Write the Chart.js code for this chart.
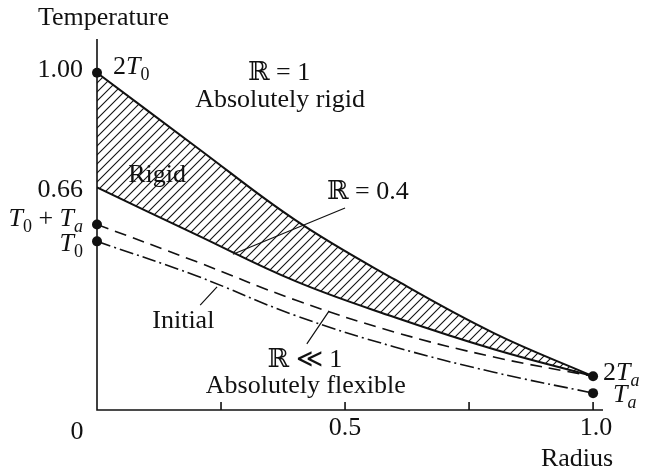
<!DOCTYPE html>
<html>
<head>
<meta charset="utf-8">
<title>Temperature vs Radius</title>
<script src="https://cdn.jsdelivr.net/npm/chart.js@4/dist/chart.umd.min.js"></script>
<style>
  html, body { margin: 0; padding: 0; background: #fff; }
  canvas { display: block; }
</style>
</head>
<body>
<canvas id="profileChart" width="650" height="474"></canvas>
<script>
// Temperature profiles along the radius

// ---------- data ----------
const T0 = 0.5;
const Ta = 0.05;

const radius       = [0, 0.2, 0.4, 0.6, 0.8, 1.0];
const rigidFull    = [2 * T0, 0.78, 0.563, 0.387, 0.228, 2 * Ta];  // R = 1
const rigidPartial = [0.66, 0.52, 0.382, 0.275, 0.18, 2 * Ta];     // R = 0.4
const flexible     = [T0 + Ta, 0.44, 0.326, 0.231, 0.157, 2 * Ta]; // R << 1
const initial      = [T0, 0.398, 0.28, 0.187, 0.112, Ta];

const endX = [0, 0, 0, 1, 1];
const endY = [2 * T0, T0 + Ta, T0, 2 * Ta, Ta];

const xTicks = [0.25, 0.5, 0.75, 1.0];

const INK = '#111';
const SERIF = '"Liberation Serif", "DejaVu Serif", serif';

// ---------- helpers ----------
function toPoints(ys) {
  return radius.map((r, i) => ({ x: r, y: ys[i] }));
}

function hatchPattern() {
  const s = 9;
  const c = document.createElement('canvas');
  c.width = s; c.height = s;
  const g = c.getContext('2d');
  g.strokeStyle = INK;
  g.lineWidth = 1.1;
  g.beginPath();
  g.moveTo(0, s); g.lineTo(s, 0);
  g.moveTo(-2, 2); g.lineTo(2, -2);
  g.moveTo(s - 2, s + 2); g.lineTo(s + 2, s - 2);
  g.stroke();
  return g.createPattern(c, 'repeat');
}

// parts: [text, italic?, subscript?]
function drawMath(ctx, parts, x, y, align) {
  const fontOf = (p) => `${p[1] ? 'italic ' : ''}${p[2] ? 18 : 26}px ${SERIF}`;
  let total = 0;
  parts.forEach(p => { ctx.font = fontOf(p); total += ctx.measureText(p[0]).width; });
  let cx = align === 'right' ? x - total : align === 'center' ? x - total / 2 : x;
  ctx.textAlign = 'left';
  ctx.textBaseline = 'alphabetic';
  parts.forEach(p => {
    ctx.font = fontOf(p);
    ctx.fillText(p[0], cx, p[2] ? y + 6 : y);
    cx += ctx.measureText(p[0]).width;
  });
}

function text(ctx, str, x, y, align) {
  ctx.font = `26px ${SERIF}`;
  ctx.textAlign = align || 'center';
  ctx.textBaseline = 'alphabetic';
  ctx.fillText(str, x, y);
}

// ---------- axes, ticks ----------
const axesPlugin = {
  id: 'axesPlugin',
  beforeDatasetsDraw(chart) {
    const { ctx, chartArea: a, scales: { x } } = chart;
    ctx.save();
    ctx.strokeStyle = INK;
    ctx.lineWidth = 1.6;
    ctx.beginPath();
    ctx.moveTo(a.left, a.top);
    ctx.lineTo(a.left, a.bottom);
    ctx.lineTo(a.right, a.bottom);
    xTicks.forEach(v => {
      const px = x.getPixelForValue(v);
      ctx.moveTo(px, a.bottom);
      ctx.lineTo(px, a.bottom - 8);
    });
    ctx.stroke();
    ctx.restore();
  }
};

// ---------- labels and leader lines ----------
const labelPlugin = {
  id: 'labelPlugin',
  afterDraw(chart) {
    const { ctx, chartArea: a, scales: { x, y } } = chart;
    const X = (v) => x.getPixelForValue(v);
    const Y = (v) => y.getPixelForValue(v);
    ctx.save();
    ctx.fillStyle = INK;
    ctx.strokeStyle = INK;

    // axis titles
    text(ctx, 'Temperature', 38, 25, 'left');
    text(ctx, 'Radius', 577, 466);

    // y tick labels
    const yl = a.left - 14;
    text(ctx, '1.00', yl, Y(1.0) + 4, 'right');
    text(ctx, '0.66', yl, Y(0.66) + 10, 'right');
    drawMath(ctx, [['T', true], ['0', false, true], [' + '], ['T', true], ['a', true, true]], yl, Y(T0 + Ta) + 1, 'right');
    drawMath(ctx, [['T', true], ['0', false, true]], yl, Y(T0) + 10, 'right');

    // x tick labels
    text(ctx, '0', a.left - 20, 439);
    text(ctx, '0.5', X(0.5), 435);
    text(ctx, '1.0', X(1.0) + 3, 435);

    // end point labels
    drawMath(ctx, [['2'], ['T', true], ['0', false, true]], X(0) + 16, Y(2 * T0) + 1, 'left');
    drawMath(ctx, [['2'], ['T', true], ['a', true, true]], X(1) + 10, Y(2 * Ta) + 4, 'left');
    drawMath(ctx, [['T', true], ['a', true, true]], X(1) + 20, Y(Ta) + 9, 'left');

    // curve annotations
    text(ctx, 'ℝ = 1', X(0.367), Y(0.978));
    text(ctx, 'Absolutely rigid', X(0.369), Y(0.898));
    text(ctx, 'Rigid', X(0.121), Y(0.676));
    text(ctx, 'ℝ = 0.4', X(0.546), Y(0.626));
    text(ctx, 'Initial', X(0.174), Y(0.243));
    text(ctx, 'ℝ ≪ 1', X(0.419), Y(0.127));
    text(ctx, 'Absolutely flexible', X(0.421), Y(0.050));

    // leader lines
    ctx.lineWidth = 1.2;
    ctx.beginPath();
    ctx.moveTo(X(0.274), Y(0.462)); ctx.lineTo(X(0.500), Y(0.599));
    ctx.moveTo(X(0.208), Y(0.311)); ctx.lineTo(X(0.242), Y(0.365));
    ctx.moveTo(X(0.423), Y(0.196)); ctx.lineTo(X(0.468), Y(0.294));
    ctx.stroke();
    ctx.restore();
  }
};

// ---------- chart ----------
const ctx = document.getElementById('profileChart').getContext('2d');

const curve = {
  borderColor: INK,
  pointRadius: 0,
  tension: 0.4,
  fill: false
};

new Chart(ctx, {
  type: 'line',
  data: {
    datasets: [
      { ...curve, label: 'R = 1', data: toPoints(rigidFull), borderWidth: 2,
        fill: 1, backgroundColor: hatchPattern() },
      { ...curve, label: 'R = 0.4', data: toPoints(rigidPartial), borderWidth: 2 },
      { ...curve, label: 'R << 1', data: toPoints(flexible), borderWidth: 1.6, borderDash: [12, 7] },
      { ...curve, label: 'Initial', data: toPoints(initial), borderWidth: 1.6, borderDash: [14, 4, 2, 4] },
      {
        label: 'ends',
        data: endX.map((v, i) => ({ x: v, y: endY[i] })),
        showLine: false,
        pointRadius: 5,
        pointBackgroundColor: INK,
        pointBorderWidth: 0,
        clip: false
      }
    ]
  },
  options: {
    responsive: false,
    animation: false,
    devicePixelRatio: 1,
    layout: { padding: { left: 97, right: 47, top: 39, bottom: 64 } },
    scales: {
      x: { type: 'linear', min: 0, max: 1.02, display: false },
      y: { type: 'linear', min: 0, max: 1.1, display: false }
    },
    plugins: {
      legend: { display: false },
      tooltip: { enabled: false }
    }
  },
  plugins: [axesPlugin, labelPlugin]
});
</script>
</body>
</html>
